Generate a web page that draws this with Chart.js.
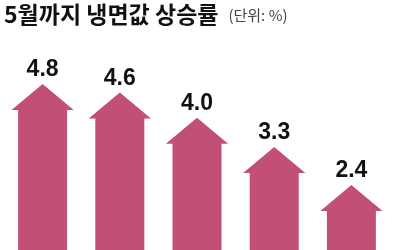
<!DOCTYPE html>
<html>
<head>
<meta charset="utf-8">
<script src="https://cdn.jsdelivr.net/npm/chart.js@4.4.1/dist/chart.umd.min.js"></script>
<style>
  html, body { margin: 0; padding: 0; background: #fff; }
  #wrap { width: 400px; height: 250px; }
</style>
</head>
<body>
<div id="wrap"><canvas id="chart"></canvas></div>
<script>
// 데이터
const titleText = "5월까지 냉면값 상승률";
const unitText = "(단위: %)";
const categories = ["1", "2", "3", "4", "5"];
const values = [4.8, 4.6, 4.0, 3.3, 2.4];

const arrowColor = "#c24f77";
const titleFont = "bold 23px 'Noto Sans CJK KR', sans-serif";

// 화살표 그리기 (막대 요소 위치 사용)
const arrowPlugin = {
  id: "arrows",
  afterDatasetsDraw(chart) {
    const ctx = chart.ctx;
    const meta = chart.getDatasetMeta(0);
    ctx.save();
    meta.data.forEach((bar, i) => {
      const { x, y, base, width } = bar.getProps(["x", "y", "base", "width"], true);
      const hw = width * 1.27 / 2;
      const sw = width / 2;
      const hh = 26;
      ctx.fillStyle = arrowColor;
      ctx.beginPath();
      ctx.moveTo(x, y);
      ctx.lineTo(x + hw, y + hh);
      ctx.lineTo(x + sw, y + hh);
      ctx.lineTo(x + sw, base);
      ctx.lineTo(x - sw, base);
      ctx.lineTo(x - sw, y + hh);
      ctx.lineTo(x - hw, y + hh);
      ctx.closePath();
      ctx.fill();

      // 값 라벨
      ctx.fillStyle = "#111";
      ctx.font = "bold 23px 'Liberation Sans', Arial, sans-serif";
      ctx.textAlign = "center";
      ctx.textBaseline = "alphabetic";
      ctx.fillText(values[i].toFixed(1), x, y - 8);
    });
    ctx.restore();
  },
  afterDraw(chart) {
    // 단위 표시
    const ctx = chart.ctx;
    const t = chart.titleBlock;
    ctx.save();
    ctx.font = titleFont;
    const w = ctx.measureText(titleText).width;
    ctx.font = "15px 'Noto Sans CJK KR', sans-serif";
    ctx.fillStyle = "#444";
    ctx.textBaseline = "middle";
    ctx.textAlign = "left";
    ctx.fillText(unitText, t.left + w + 10, t.top + 15);
    ctx.restore();
  }
};

new Chart(document.getElementById("chart"), {
  type: "bar",
  data: {
    labels: categories,
    datasets: [{
      data: values,
      backgroundColor: "rgba(0,0,0,0)",
      barThickness: 49
    }]
  },
  options: {
    responsive: true,
    maintainAspectRatio: false,
    animation: false,
    layout: { padding: { left: 4, right: 10, top: 0, bottom: 0 } },
    plugins: {
      legend: { display: false },
      tooltip: { enabled: false },
      title: {
        display: true,
        text: titleText,
        align: "start",
        color: "#111",
        font: { family: "'Noto Sans CJK KR', sans-serif", size: 23, weight: "bold", lineHeight: 1.2 },
        padding: { top: 0, bottom: 12.4 }
      }
    },
    scales: {
      x: { display: false },
      y: { display: false, min: 0.85, max: 5.85 }
    }
  },
  plugins: [arrowPlugin]
});
</script>
</body>
</html>
